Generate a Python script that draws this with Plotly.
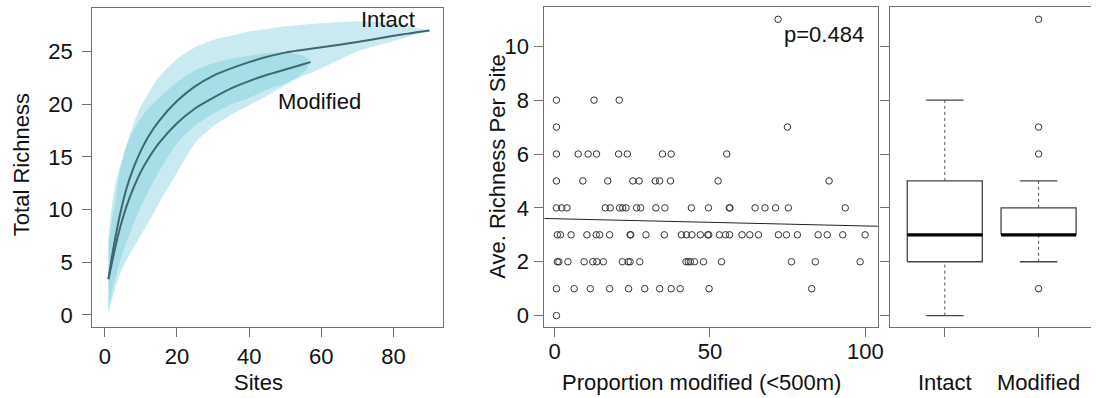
import numpy as np
import plotly.graph_objects as go

# ---------------- Data: species accumulation (left panel) ----------------
intact_sites = [1, 2, 3, 4, 5, 6, 8, 10, 12, 15, 20, 25, 30, 35, 40, 45, 50, 60, 70, 80, 90]
intact_mean = [3.4, 5.6, 7.5, 9.2, 10.7, 12.0, 14.0, 15.6, 16.9, 18.4, 20.3, 21.7, 22.7, 23.4,
               24.0, 24.5, 24.9, 25.4, 25.9, 26.5, 27.0]
intact_hi = [7.5, 10.5, 12.6, 13.8, 15.0, 16.1, 18.2, 19.8, 21.0, 22.6, 24.3, 25.4, 26.1, 26.5,
             26.9, 27.15, 27.4, 27.7, 27.85, 27.7, 27.0]
intact_lo = [0.5, 2.2, 3.6, 4.8, 5.9, 6.9, 8.7, 10.3, 11.7, 13.6, 16.3, 18.0, 19.1, 20.0,
             20.6, 21.4, 22.0, 23.4, 25.0, 26.0, 27.0]

mod_sites = [1, 2, 3, 4, 5, 6, 8, 10, 12, 15, 20, 25, 30, 35, 40, 45, 50, 55, 56, 57]
mod_mean = [3.4, 5.0, 6.6, 8.0, 9.2, 10.3, 12.1, 13.6, 14.8, 16.3, 18.2, 19.6, 20.6, 21.5,
            22.2, 22.8, 23.3, 23.8, 23.9, 24.0]
mod_hi = [6.8, 9.0, 11.0, 13.3, 14.9, 16.0, 17.6, 18.7, 19.6, 20.6, 22.1, 23.2, 23.9, 24.3,
          24.6, 24.85, 24.95, 24.6, 24.4, 24.0]
mod_lo = [0.2, 1.5, 2.7, 3.7, 4.5, 5.2, 6.4, 7.6, 8.7, 10.6, 13.5, 16.3, 17.9, 19.0,
          19.9, 20.8, 21.8, 23.0, 23.4, 24.0]

# ---------------- Data: richness vs proportion modified (middle panel) ----------------
prop_rich0 = [0.6]
prop_rich1 = [0.6, 6.3, 11.5, 17.7, 23.8, 29.0, 33.8, 37.5, 40.4, 49.7, 82.7]
prop_rich2 = [0.9, 1.4, 4.3, 9.5, 12.3, 13.6, 15.7, 21.8, 23.7, 24.3, 27.4, 42.3, 43.0, 43.7,
              45.0, 47.9, 53.7, 76.2, 83.9, 98.3]
prop_rich3 = [0.9, 1.9, 5.3, 10.4, 13.4, 14.5, 17.7, 24.3, 24.5, 29.4, 35.3, 40.8, 42.4, 44.2,
              46.9, 49.3, 49.6, 53.0, 55.0, 56.3, 60.3, 62.8, 65.6, 72.0, 74.6, 78.1, 84.8,
              87.7, 92.7, 99.9]
prop_rich4 = [0.6, 2.3, 4.0, 16.3, 17.9, 20.9, 21.9, 23.0, 26.4, 27.7, 32.6, 35.5, 44.0, 49.5,
              56.2, 56.4, 64.5, 67.7, 71.1, 75.2, 93.5]
prop_rich5 = [0.6, 9.1, 17.1, 25.2, 27.2, 32.4, 33.8, 37.3, 52.6, 88.3]
prop_rich6 = [0.6, 7.6, 10.8, 13.5, 20.6, 23.4, 34.7, 37.5, 55.4]
prop_rich7 = [0.6, 74.9]
prop_rich8 = [0.6, 12.7, 20.8]
prop_rich11 = [71.9]
p_value_text = "p=0.484"

# ---------------- Data: boxplot summary (right panel) ----------------
groups = ["Intact", "Modified"]
box_lower_whisker = [0, 2]
box_q1 = [2, 3]
box_median = [3, 3]
box_q3 = [5, 4]
box_upper_whisker = [8, 5]
modified_outliers = [1, 6, 7, 11]

# ---------------- Style ----------------
FONT = "Liberation Sans, Arial, Helvetica, sans-serif"
FS = 22
AX_COL = "#707070"
BAND = "rgba(111,200,216,0.38)"
CURVE = "#3f6770"
W, H = 1097, 398


def px_x(p):
    return p / W


def px_y(p):
    return 1 - p / H


fig = go.Figure()

# ---- Left panel ----
for sites, hi, lo in [(intact_sites, intact_hi, intact_lo), (mod_sites, mod_hi, mod_lo)]:
    fig.add_trace(go.Scatter(
        x=list(sites) + list(sites[::-1]),
        y=list(hi) + list(lo[::-1]),
        fill="toself", fillcolor=BAND, line=dict(width=0, shape="spline", smoothing=0.6),
        mode="lines", hoverinfo="skip", showlegend=False, xaxis="x", yaxis="y"))
for sites, mean in [(intact_sites, intact_mean), (mod_sites, mod_mean)]:
    fig.add_trace(go.Scatter(
        x=sites, y=mean, mode="lines",
        line=dict(color=CURVE, width=2, shape="spline", smoothing=0.6),
        showlegend=False, xaxis="x", yaxis="y"))

# ---- Middle panel ----
rows = [(0, prop_rich0), (1, prop_rich1), (2, prop_rich2), (3, prop_rich3), (4, prop_rich4),
        (5, prop_rich5), (6, prop_rich6), (7, prop_rich7), (8, prop_rich8), (11, prop_rich11)]
sx, sy = [], []
for r, props in rows:
    sx += props
    sy += [r] * len(props)
fig.add_trace(go.Scatter(
    x=sx, y=sy, mode="markers",
    marker=dict(symbol="circle-open", size=6.5, color="#333333", line=dict(width=1)),
    showlegend=False, xaxis="x2", yaxis="y2"))

x2_range = [-3.3, 104.0]
slope, intercept = np.polyfit(sx, sy, 1)
lx = np.array(x2_range)
fig.add_trace(go.Scatter(
    x=lx, y=intercept + slope * lx, mode="lines",
    line=dict(color="#222222", width=1), showlegend=False, xaxis="x2", yaxis="y2"))

# ---- Right panel (boxplot drawn from summary stats) ----
half_box = 0.4
half_cap = 0.2
for i, g in enumerate(groups):
    xc = i + 1
    fig.add_trace(go.Scatter(
        x=[xc - half_box, xc + half_box, xc + half_box, xc - half_box, xc - half_box],
        y=[box_q1[i], box_q1[i], box_q3[i], box_q3[i], box_q1[i]],
        mode="lines", line=dict(color="#444444", width=1.3), showlegend=False,
        xaxis="x3", yaxis="y3"))
    for a, b in [(box_q3[i], box_upper_whisker[i]), (box_lower_whisker[i], box_q1[i])]:
        fig.add_trace(go.Scatter(
            x=[xc, xc], y=[a, b], mode="lines",
            line=dict(color="#555555", width=1, dash="3px,3px"), showlegend=False,
            xaxis="x3", yaxis="y3"))
    for v in [box_lower_whisker[i], box_upper_whisker[i]]:
        fig.add_trace(go.Scatter(
            x=[xc - half_cap, xc + half_cap], y=[v, v], mode="lines",
            line=dict(color="#444444", width=1.3), showlegend=False, xaxis="x3", yaxis="y3"))
    fig.add_trace(go.Scatter(
        x=[xc - half_box, xc + half_box], y=[box_median[i], box_median[i]], mode="lines",
        line=dict(color="#000000", width=3.2), showlegend=False, xaxis="x3", yaxis="y3"))

fig.add_trace(go.Scatter(
    x=[2] * len(modified_outliers), y=modified_outliers, mode="markers",
    marker=dict(symbol="circle-open", size=6.5, color="#333333", line=dict(width=1)),
    showlegend=False, xaxis="x3", yaxis="y3"))

# ---- Axes ----
common = dict(showgrid=False, zeroline=False, showline=True, linecolor=AX_COL, linewidth=1,
              ticks="outside", ticklen=9, tickcolor=AX_COL, tickwidth=1,
              tickfont=dict(family=FONT, size=FS, color="#111111"))

y_bottom = px_y(328.3)
fig.update_layout(
    width=W, height=H, margin=dict(l=0, r=0, t=0, b=0),
    paper_bgcolor="white", plot_bgcolor="white",
    font=dict(family=FONT, size=FS, color="#111111"),
    xaxis=dict(domain=[px_x(92.7), px_x(445)], range=[-3.5, 93.6], tickvals=[0, 20, 40, 60, 80],
               mirror=True, ticklabelstandoff=0, **common),
    yaxis=dict(domain=[y_bottom, px_y(8.3)], range=[-1.19, 29.11],
               tickvals=[0, 5, 10, 15, 20, 25], mirror=True, ticklabelstandoff=5, **common),
    xaxis2=dict(domain=[px_x(547.3), px_x(882.7)], range=x2_range, tickvals=[0, 50, 100],
                mirror=True, anchor="y2", ticklabelstandoff=-5, **common),
    yaxis2=dict(domain=[y_bottom, px_y(7.5)], range=[-0.44, 11.44], tickvals=[0, 2, 4, 6, 8, 10],
                mirror=True, anchor="x2", ticklabelstandoff=1, **common),
    xaxis3=dict(domain=[px_x(895.3), 1.0], range=[0.42, 2.559], tickvals=[1, 2], ticktext=groups,
                mirror=True, anchor="y3", ticklabelstandoff=26, **common),
    yaxis3=dict(domain=[y_bottom, px_y(7.5)], range=[-0.44, 11.44], tickvals=[0, 2, 4, 6, 8, 10],
                showticklabels=False, mirror=False, anchor="x3", **common),
)

ctr = dict(xref="paper", yref="paper", showarrow=False, xanchor="center", yanchor="middle",
           font=dict(size=FS))
ann = [
    dict(text="Total Richness", x=px_x(21.7), y=px_y(165), textangle=-90, **ctr),
    dict(text="Sites", x=px_x(260), y=px_y(383), **ctr),
    dict(text="Ave. Richness Per Site", x=px_x(500), y=px_y(167), textangle=-90, **ctr),
    dict(text="Proportion modified (<500m)", x=px_x(705.7), y=px_y(383), **ctr),
    dict(text=p_value_text, x=px_x(829), y=px_y(35), **ctr),
    dict(text="Intact", x=78.4, y=28.0, xref="x", yref="y", showarrow=False,
         xanchor="center", yanchor="middle", font=dict(size=FS)),
    dict(text="Modified", x=59.6, y=20.3, xref="x", yref="y", showarrow=False,
         xanchor="center", yanchor="middle", font=dict(size=FS)),
]
fig.update_layout(annotations=ann)

fig.write_html(
    "out.html",
    config={"displayModeBar": False},
    post_script="document.body.style.margin='0px';"
                "document.documentElement.style.overflow='hidden';",
)
